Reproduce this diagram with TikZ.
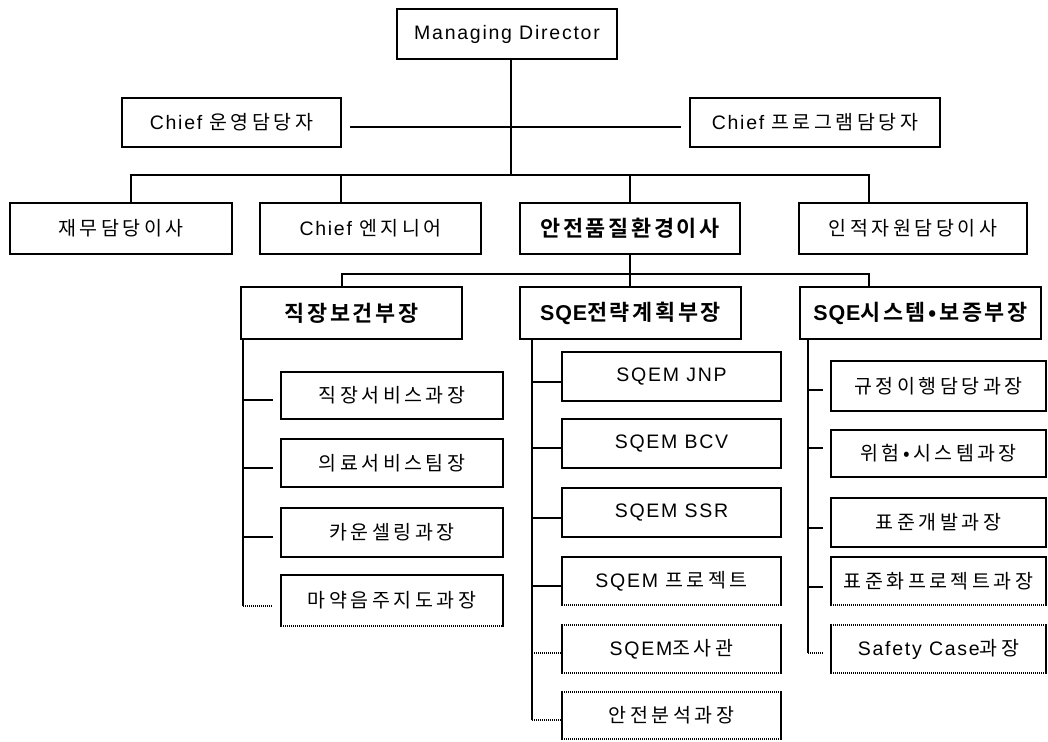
\documentclass[tikz,border=0pt]{standalone}
\usepackage{fontspec}
\setmainfont{Liberation Sans}[LetterSpace=9]
\newfontfamily\kr{Noto Sans CJK KR}[LetterSpace=18]
\newfontfamily\krb{Noto Sans CJK KR Bold}[LetterSpace=12,Scale=1.12]
\newfontfamily\latb{Liberation Sans Bold}[LetterSpace=4,Scale=1.1]
\newcommand\bx[7][]{\node[box,#1,minimum width={#5-#3},minimum height={#6-#4}] (#2) at ({(#3+#5)/2},{(#4+#6)/2}) {#7};}
\tikzset{
  box/.style={draw, line width=2.6pt, inner sep=0pt, outer sep=0pt, font=\fontsize{19.5}{23}\selectfont},
  boxl/.style={line width=2.6pt, line cap=rect},
  dotl/.style={line width=2.4pt, dash pattern=on 1pt off 1pt},
  conn/.style={line width=2.4pt},
  thinl/.style={line width=1.2pt},
}
\begin{document}
\begin{tikzpicture}[x=1pt,y=-1pt]
\useasboundingbox (0,0) rectangle (1048,741);
% level 0 and 1
\bx{md}{397}{9}{617}{59}{Managing Director}
\bx{cop}{122}{98}{341}{147}{Chief {\kr 운영담당자}}
\bx{cpr}{690}{98}{940}{147}{Chief {\kr 프로그램담당자}}
% level 2
\bx{fin}{10}{203}{232}{254}{{\kr 재무담당이사}}
\bx{eng}{260}{203}{481}{254}{Chief {\kr 엔지니어}}
\bx{sqe}{520}{203}{740}{254}{{\krb 안전품질환경이사}}
\bx{hr}{799}{203}{1027}{254}{{\kr 인적자원담당이사}}
% level 3
\bx{ohs}{241}{287}{462}{339}{{\krb 직장보건부장}}
\bx{spl}{520}{287}{741}{339}{{\latb SQE}{\krb 전략계획부장}}
\bx{ssy}{800}{287}{1041}{339}{{\latb SQE}{\krb 시스템•보증부장}}
% left column
\bx{l1}{281}{372}{503}{419}{{\kr 직장서비스과장}}
\bx{l2}{281}{439}{503}{487}{{\kr 의료서비스팀장}}
\bx{l3}{281}{508}{503}{557}{{\kr 카운셀링과장}}
\bx[draw=none]{l4}{281}{575}{503}{626}{{\kr 마약음주지도과장}}
% middle column
\bx{m1}{562}{352}{781}{401}{SQEM JNP}
\bx{m2}{562}{419}{781}{468}{SQEM BCV}
\bx{m3}{562}{488}{781}{537}{SQEM SSR}
\bx[draw=none]{m4}{562}{557}{781}{605}{SQEM {\kr 프로젝트}}
\bx[draw=none]{m5}{562}{625}{781}{673}{SQEM{\kr 조사관}}
\bx[draw=none]{m6}{562}{692}{781}{739}{{\kr 안전분석과장}}
% right column
\bx{r1}{831}{361}{1046}{411}{{\kr 규정이행담당과장}}
\bx{r2}{831}{430}{1046}{477}{{\kr 위험•시스템과장}}
\bx{r3}{831}{498}{1046}{547}{{\kr 표준개발과장}}
\bx[draw=none]{r4}{831}{557}{1046}{605}{{\kr 표준화프로젝트과장}}
\bx[draw=none]{r5}{831}{625}{1046}{673}{Safety Case{\kr 과장}}
% partially dotted box borders
\foreach \n in {l4,m4,r4}{
  \draw[boxl] (\n.south west) -- (\n.north west) -- (\n.north east) -- (\n.south east);
  \draw[dotl] (\n.south west) -- (\n.south east);
}
\foreach \n in {m5,m6,r5}{
  \draw[boxl] (\n.north west) -- (\n.south west);
  \draw[boxl] (\n.north east) -- (\n.south east);
  \draw[dotl] (\n.north west) -- (\n.north east);
  \draw[dotl] (\n.south west) -- (\n.south east);
}
% top connectors
\coordinate (t1) at (511,175);
\draw[conn] (md.south -| t1) -- (t1);
\draw[conn] ([xshift=9pt]cop.east |- 0,127) -- ([xshift=-9pt]cpr.west |- 0,127);
\draw[conn] (fin.north -| 131,0) |- (t1) -| (hr.north -| 869,0);
\draw[conn] (eng.north -| 341,0) -- (341,175);
\draw[conn] (sqe.north -| 630,0) -- (630,175);
% level 2 to level 3
\coordinate (t2) at (630,274);
\draw[conn] (sqe.south -| t2) -- (t2);
\draw[conn] (ohs.north -| 342,0) |- (t2) -| (ssy.north -| 869,0);
\draw[conn] (spl.north -| t2) -- (t2);
% left column
\coordinate (lb) at (243,606);
\draw[conn] (ohs.south -| lb) -- (lb);
\draw[thinl] (243,400) -- ([xshift=-8pt]l1.west |- 0,400);
\draw[conn] (243,468) -- ([xshift=-8pt]l2.west |- 0,468);
\draw[conn] (243,537) -- ([xshift=-8pt]l3.west |- 0,537);
\draw[dotl] (lb) -- ([xshift=-8pt]l4.west |- lb);
% middle column
\coordinate (mb) at (532,720);
\draw[conn] (spl.south -| mb) -- (mb);
\draw[conn] (532,382) -- (m1.west |- 0,382);
\draw[conn] (532,448) -- (m2.west |- 0,448);
\draw[conn] (532,518) -- (m3.west |- 0,518);
\draw[thinl] (532,586) -- (m4.west |- 0,586);
\draw[dotl] (532,653) -- (m5.west |- 0,653);
\draw[dotl] (mb) -- (m6.west |- mb);
% right column
\coordinate (rb) at (808,653);
\draw[conn] (ssy.south -| rb) -- (rb);
\draw[conn] (808,390) -- ([xshift=-8pt]r1.west |- 0,390);
\draw[conn] (808,448) -- ([xshift=-8pt]r2.west |- 0,448);
\draw[conn] (808,528) -- ([xshift=-8pt]r3.west |- 0,528);
\draw[thinl] (808,587) -- ([xshift=-8pt]r4.west |- 0,587);
\draw[dotl] (rb) -- ([xshift=-8pt]r5.west |- rb);
\end{tikzpicture}
\end{document}
